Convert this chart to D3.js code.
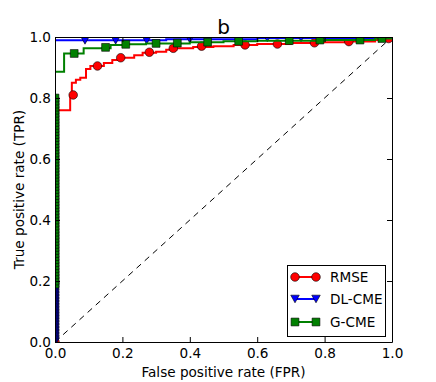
<!DOCTYPE html>
<meta charset="utf-8">
<style>
  body { margin: 0; background: #fff; }
  svg { display: block; font-family: "DejaVu Sans", sans-serif; }
</style>
<svg width="436" height="382"></svg>
<script src="https://d3js.org/d3.v7.min.js"></script>
<script>
// ---- data ----
var seriesNames = ['RMSE', 'DL-CME', 'G-CME'];
var seriesColors = ['#ff0000', '#0000ff', '#008000'];
var xTicks = [0, 0.2, 0.4, 0.6, 0.8, 1.0];
var yTicks = [0, 0.2, 0.4, 0.6, 0.8, 1.0];

// step curves: fpr at which tpr jumps, tpr after the jump
var rmseFpr = [0, 0, 0.007, 0.045, 0.05, 0.062, 0.075, 0.092, 0.105, 0.145, 0.17, 0.19, 0.235, 0.26, 0.30, 0.33, 0.36, 0.41, 0.47, 0.53, 0.60, 0.70, 0.78, 0.86, 0.95, 0.98, 1];
var rmseTpr = [0, 0.73, 0.76, 0.81, 0.85, 0.86, 0.866, 0.895, 0.905, 0.915, 0.925, 0.932, 0.94, 0.948, 0.952, 0.958, 0.963, 0.967, 0.970, 0.974, 0.977, 0.980, 0.983, 0.985, 0.99, 0.995, 1];
var rmseMarkFpr = [0, 0.054, 0.126, 0.195, 0.28, 0.351, 0.435, 0.564, 0.66, 0.77, 0.872, 0.99];
var rmseMarkTpr = [0, 0.81, 0.905, 0.932, 0.95, 0.963, 0.97, 0.974, 0.977, 0.981, 0.985, 0.995];

var dlFpr = [0, 0, 0.33, 0.60, 1];
var dlTpr = [0, 0.989, 0.993, 0.997, 1];
// markers sitting on the y axis (dense), then along the top
var dlColTpr = [0, 0.005, 0.01, 0.015, 0.02, 0.025, 0.03, 0.035, 0.04, 0.045, 0.05, 0.055, 0.06, 0.065, 0.07, 0.075, 0.08, 0.085, 0.09, 0.095, 0.10, 0.105, 0.11, 0.115, 0.12, 0.125, 0.13, 0.135, 0.14, 0.145, 0.15, 0.155, 0.16, 0.165, 0.17, 0.175, 0.18, 0.185];
var dlMarkFpr = [0.089, 0.18, 0.272, 0.40, 0.63, 0.73];
var dlMarkTpr = [0.989, 0.989, 0.989, 0.993, 0.997, 0.997];

var gFpr = [0, 0, 0.027, 0.085, 0.165, 0.21, 0.27, 0.40, 0.50, 0.60, 0.80, 0.95, 1];
var gTpr = [0, 0.886, 0.946, 0.963, 0.974, 0.976, 0.979, 0.983, 0.986, 0.988, 0.99, 0.995, 1];
var gColTpr = [0.19, 0.20, 0.21, 0.22, 0.23, 0.24, 0.25, 0.26, 0.27, 0.28, 0.29, 0.30, 0.31, 0.32, 0.33, 0.34, 0.35, 0.36, 0.37, 0.38, 0.39, 0.40, 0.41, 0.42, 0.43, 0.44, 0.45, 0.46, 0.47, 0.48, 0.49, 0.50, 0.51, 0.52, 0.53, 0.54, 0.55, 0.56, 0.57, 0.58, 0.59, 0.60, 0.61, 0.62, 0.63, 0.64, 0.65, 0.66, 0.67, 0.68, 0.69, 0.70, 0.71, 0.72, 0.73, 0.74, 0.75, 0.76, 0.77, 0.78, 0.79, 0.80];
var gMarkFpr = [0.057, 0.15, 0.21, 0.30, 0.363, 0.453, 0.545, 0.695, 0.786, 0.905, 0.97];
var gMarkTpr = [0.946, 0.966, 0.976, 0.979, 0.98, 0.983, 0.986, 0.988, 0.99, 0.99, 0.995];

// ---- layout ----
var svg = d3.select('svg');
var pLeft = 55, pTop = 37, pRight = 392, pBottom = 342;
var fontPx = '13.6px';

var x = d3.scaleLinear().domain([0, 1]).range([pLeft, pRight]);
var y = d3.scaleLinear().domain([0, 1]).range([pBottom, pTop]);

svg.append('defs').append('clipPath').attr('id', 'plotclip')
  .append('rect').attr('x', pLeft).attr('y', pTop)
  .attr('width', pRight - pLeft).attr('height', pBottom - pTop);

var plot = svg.append('g').attr('clip-path', 'url(#plotclip)');

// chance diagonal
plot.append('line')
  .attr('x1', x(0)).attr('y1', y(0)).attr('x2', x(1)).attr('y2', y(1))
  .attr('stroke', 'black').attr('stroke-width', 1)
  .attr('stroke-dasharray', '6,5');

function zip(a, b) { return a.map(function (v, i) { return [v, b[i]]; }); }
function onAxis(tprs) { return tprs.map(function () { return 0; }); }

var stepLine = d3.line()
  .x(function (d) { return x(d[0]); })
  .y(function (d) { return y(d[1]); })
  .curve(d3.curveStepAfter);

var circleSym = d3.symbol().type(d3.symbolCircle).size(Math.PI * 4.3 * 4.3);
var squareSym = d3.symbol().type(d3.symbolSquare).size(7.8 * 7.8);
// downward triangle
function triDown(s) {
  var h = s * 0.9;
  return 'M' + (-s / 2) + ',' + (-h / 2) + 'L' + (s / 2) + ',' + (-h / 2) + 'L0,' + (h / 2) + 'Z';
}
var markerPaths = [circleSym(), triDown(8.5), squareSym()];

function drawSeries(i, fpr, tpr, mFpr, mTpr) {
  plot.append('path')
    .datum(zip(fpr, tpr))
    .attr('d', stepLine)
    .attr('fill', 'none')
    .attr('stroke', seriesColors[i])
    .attr('stroke-width', 2);
  plot.append('g').selectAll('path')
    .data(zip(mFpr, mTpr))
    .enter().append('path')
    .attr('transform', function (d) { return 'translate(' + x(d[0]) + ',' + y(d[1]) + ')'; })
    .attr('d', markerPaths[i])
    .attr('fill', seriesColors[i])
    .attr('stroke', 'black')
    .attr('stroke-width', 0.6);
}

drawSeries(0, rmseFpr, rmseTpr, rmseMarkFpr, rmseMarkTpr);
drawSeries(1, dlFpr, dlTpr, onAxis(dlColTpr).concat(dlMarkFpr), dlColTpr.concat(dlMarkTpr));
drawSeries(2, gFpr, gTpr, onAxis(gColTpr).concat(gMarkFpr), gColTpr.concat(gMarkTpr));

// ---- axes (classic: inward ticks on all sides) ----
var fmt = d3.format('.1f');
var axB = svg.append('g').attr('transform', 'translate(0,' + pBottom + ')')
  .call(d3.axisBottom(x).tickValues(xTicks).tickFormat(fmt).tickSize(-5).tickSizeOuter(0).tickPadding(6));
var axL = svg.append('g').attr('transform', 'translate(' + pLeft + ',0)')
  .call(d3.axisLeft(y).tickValues(yTicks).tickFormat(fmt).tickSize(-5).tickSizeOuter(0).tickPadding(4));
var axT = svg.append('g').attr('transform', 'translate(0,' + pTop + ')')
  .call(d3.axisTop(x).tickValues(xTicks).tickFormat('').tickSize(-5).tickSizeOuter(0));
var axR = svg.append('g').attr('transform', 'translate(' + pRight + ',0)')
  .call(d3.axisRight(y).tickValues(yTicks).tickFormat('').tickSize(-5).tickSizeOuter(0));

[axB, axL, axT, axR].forEach(function (a) {
  a.selectAll('.domain').attr('stroke', 'black').attr('stroke-width', 1);
  a.selectAll('.tick line').attr('stroke', 'black');
  a.selectAll('text').attr('fill', 'black')
    .style('font-family', '"DejaVu Sans", sans-serif').style('font-size', fontPx);
});

// ---- titles ----
svg.append('text')
  .attr('x', (pLeft + pRight) / 2).attr('y', 34)
  .attr('text-anchor', 'middle').style('font-size', '20px')
  .text('b');

svg.append('text')
  .attr('x', (pLeft + pRight) / 2).attr('y', 377)
  .attr('text-anchor', 'middle').style('font-size', fontPx)
  .text('False positive rate (FPR)');

svg.append('text')
  .attr('transform', 'translate(24,' + (pTop + pBottom) / 2 + ') rotate(-90)')
  .attr('text-anchor', 'middle').style('font-size', fontPx)
  .text('True positive rate (TPR)');

// ---- legend ----
var legend = svg.append('g');
legend.append('rect')
  .attr('x', 287.5).attr('y', 265.5).attr('width', 98).attr('height', 71)
  .attr('fill', 'white').attr('stroke', 'black').attr('stroke-width', 1);

var rowY = [277, 299, 322];
seriesNames.forEach(function (name, i) {
  var g = legend.append('g').attr('transform', 'translate(0,' + rowY[i] + ')');
  g.append('line').attr('x1', 295).attr('x2', 316).attr('y1', 0).attr('y2', 0)
    .attr('stroke', seriesColors[i]).attr('stroke-width', 2);
  [295, 316].forEach(function (mx) {
    g.append('path').attr('transform', 'translate(' + mx + ',0)')
      .attr('d', markerPaths[i])
      .attr('fill', seriesColors[i]).attr('stroke', 'black').attr('stroke-width', 0.6);
  });
  g.append('text').attr('x', 330).attr('y', 0).attr('dy', '0.36em')
    .style('font-size', fontPx).text(name);
});
</script>
